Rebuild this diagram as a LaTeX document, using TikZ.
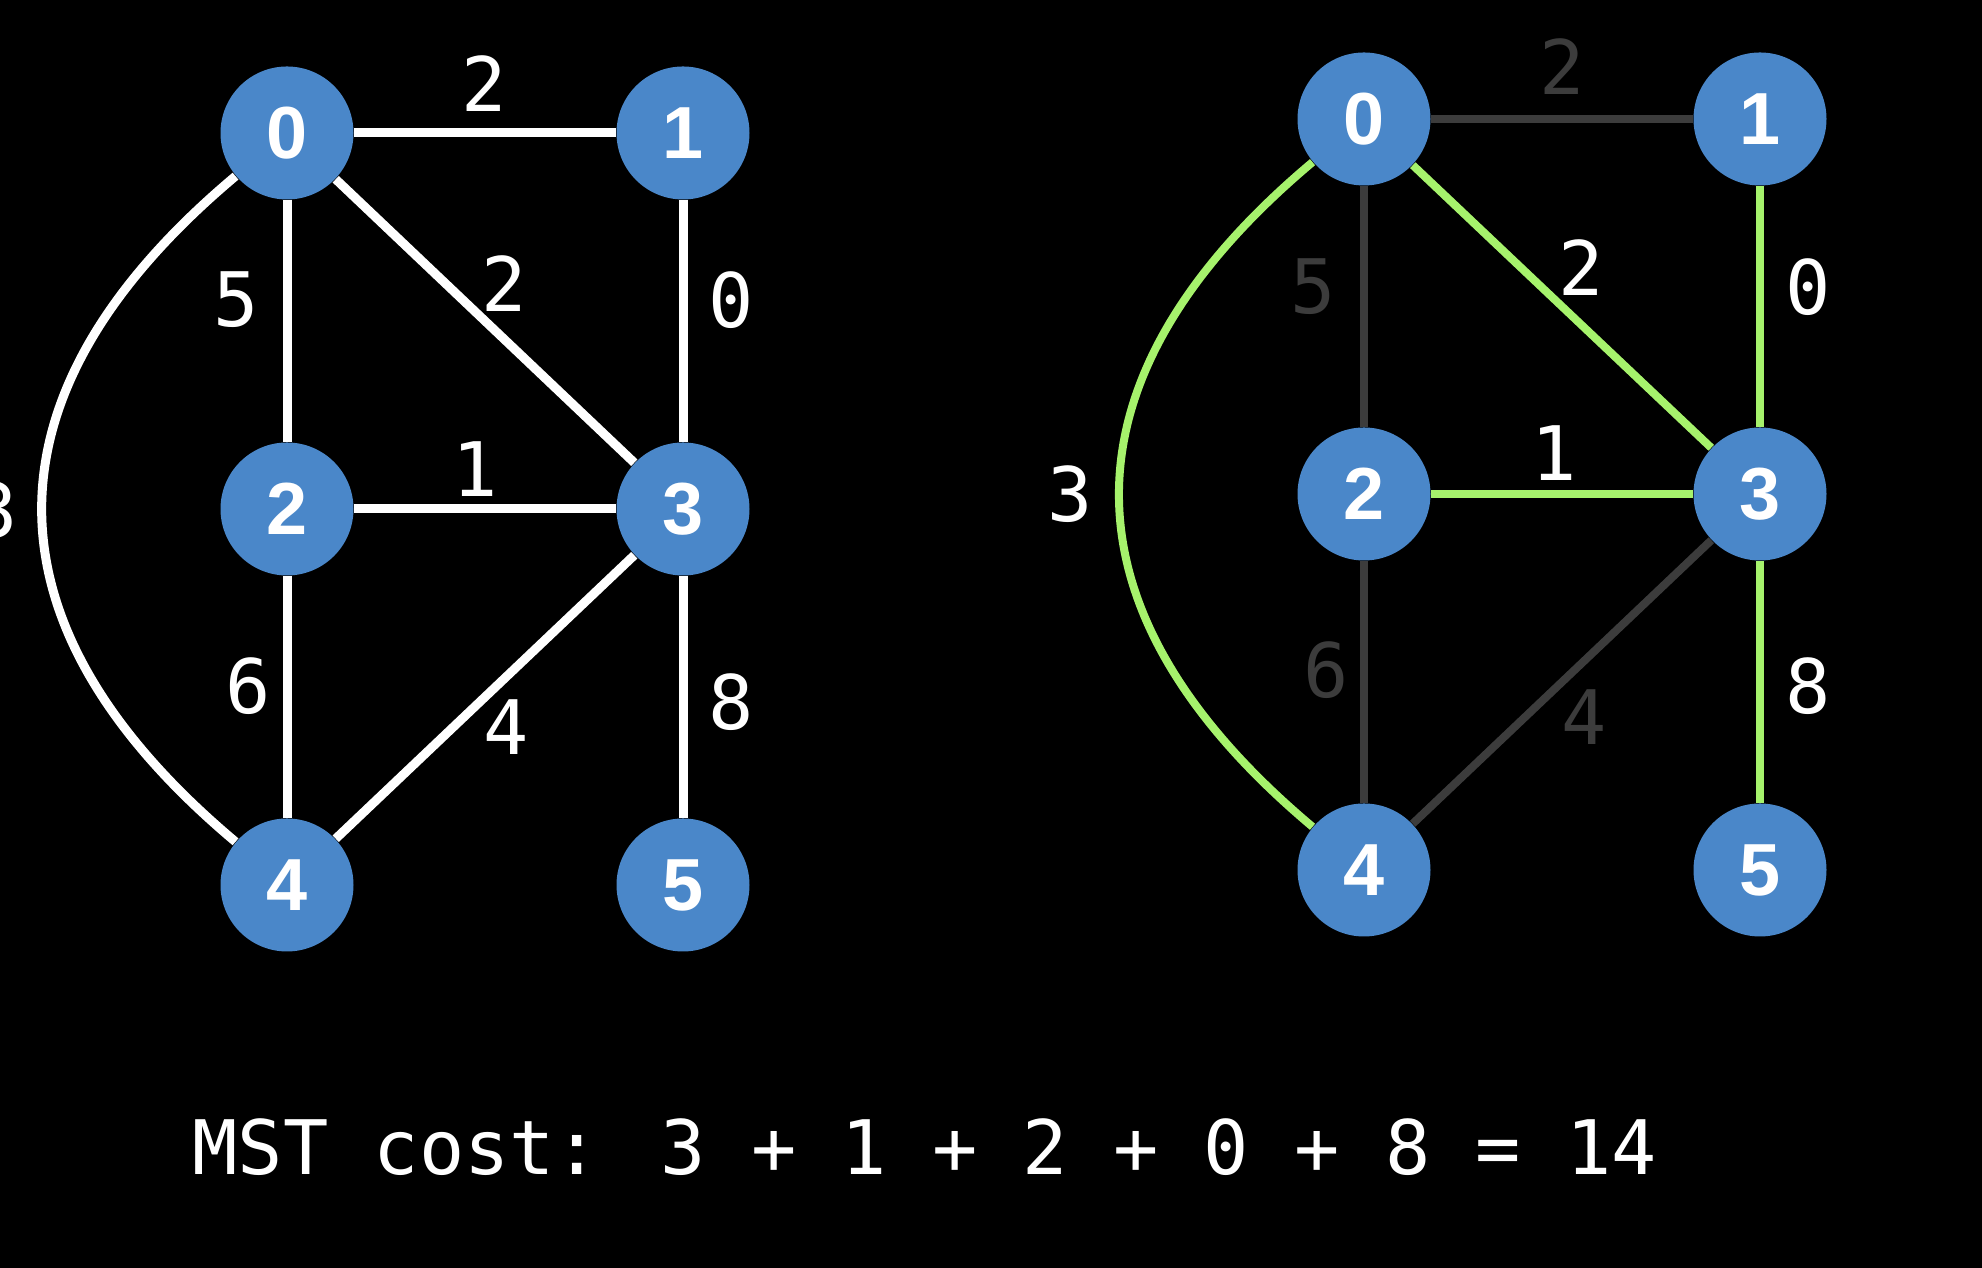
\documentclass[tikz,border=0pt]{standalone}
\usepackage{fontspec}
\newfontfamily\numfont{DejaVu Sans Mono}
\newfontfamily\vtxfont{Liberation Sans}
\definecolor{vtxblue}{HTML}{4A87C9}
\definecolor{mstgreen}{HTML}{A6F26C}
\definecolor{offgray}{HTML}{3C3C3C}
\begin{document}
\begin{tikzpicture}[
    vtx/.style={circle, fill=vtxblue, minimum size=1.33cm, inner sep=0pt, text=white, font=\vtxfont\bfseries\fontsize{21}{24}\selectfont},
    wt/.style={text=white, inner sep=0pt, font=\numfont\fontsize{21.4}{24}\selectfont},
    wtoff/.style={wt, text=offgray},
    gedge/.style={white, line width=0.09cm},
    mstedge/.style={mstgreen, line width=0.08cm},
    offedge/.style={offgray, line width=0.08cm}
  ]
      \fill[black] (0,0) rectangle (19.82,12.68);
      \useasboundingbox (0,0) rectangle (19.82,12.68);

      \node[vtx] (a0) at (2.87,11.35){0};
      \node[vtx] (a1) at (6.83,11.35){1};
      \node[vtx] (a2) at (2.87,7.59){2};
      \node[vtx] (a3) at (6.83,7.59){3};
      \node[vtx] (a4) at (2.87,3.83){4};
      \node[vtx] (a5) at (6.83,3.83){5};
      \draw[gedge](a0) -- (a1);
      \draw[gedge](a0) -- (a2);
      \draw[gedge](a0) -- (a3);
      \draw[gedge](a1) -- (a3);
      \draw[gedge](a2) -- (a3);
      \draw[gedge](a2) -- (a4);
      \draw[gedge](a3) -- (a4);
      \draw[gedge](a3) -- (a5);
      \draw[gedge](a0) to[out=220, in=140, looseness=1.3] (a4);
      \node[wt] (lw01) at (4.84,11.84){2};
      \node[wt] (lw02) at (2.36,9.68){5};
      \node[wt] (lw03) at (5.04,9.84){2};
      \node[wt] (lw13) at (7.31,9.68){0};
      \node[wt] (lw23) at (4.75,7.99){1};
      \node[wt] (lw04) at (-0.05,7.58){3};
      \node[wt] (lw24) at (2.48,5.82){6};
      \node[wt] (lw34) at (5.06,5.41){4};
      \node[wt] (lw35) at (7.31,5.66){8};

      \node[vtx] (b0) at (13.64,11.49){0};
      \node[vtx] (b1) at (17.60,11.49){1};
      \node[vtx] (b2) at (13.64,7.74){2};
      \node[vtx] (b3) at (17.60,7.74){3};
      \node[vtx] (b4) at (13.64,3.98){4};
      \node[vtx] (b5) at (17.60,3.98){5};
      \draw[offedge](b0) -- (b1);
      \draw[offedge](b0) -- (b2);
      \draw[mstedge](b0) -- (b3);
      \draw[mstedge](b1) -- (b3);
      \draw[mstedge](b2) -- (b3);
      \draw[offedge](b2) -- (b4);
      \draw[offedge](b3) -- (b4);
      \draw[mstedge](b3) -- (b5);
      \draw[mstedge](b0) to[out=220, in=140, looseness=1.3] (b4);
      \node[wtoff] (rw01) at (15.62,12.01){2};
      \node[wtoff] (rw02) at (13.13,9.81){5};
      \node[wt] (rw03) at (15.81,10.00){2};
      \node[wt] (rw13) at (18.08,9.81){0};
      \node[wt] (rw23) at (15.54,8.15){1};
      \node[wt] (rw04) at (10.70,7.74){3};
      \node[wtoff] (rw24) at (13.26,5.98){6};
      \node[wtoff] (rw34) at (15.84,5.51){4};
      \node[wt] (rw35) at (18.08,5.82){8};

      \node[wt, anchor=base west] (cost) at (1.92,0.93){MST cost: 3 + 1 + 2 + 0 + 8 = 14};
    \end{tikzpicture}
\end{document}
